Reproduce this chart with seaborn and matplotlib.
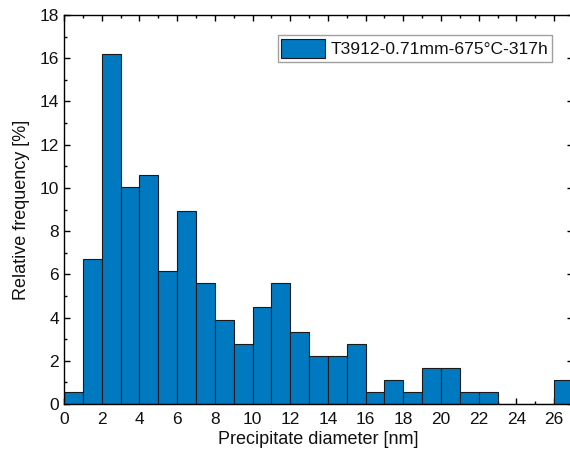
import numpy as np
import pandas as pd
import matplotlib
matplotlib.use("Agg")
import matplotlib.pyplot as plt
import seaborn as sns
from matplotlib.ticker import MultipleLocator

# Data: relative frequency [%] per 1 nm bin (bin left edges 0..26)
bin_left = list(range(27))
rel_freq = [0.56, 6.70, 16.20, 10.06, 10.61, 6.15, 8.94, 5.59, 3.91, 2.79,
            4.47, 5.59, 3.35, 2.23, 2.23, 2.79, 0.56, 1.12, 0.56, 1.68,
            1.68, 0.56, 0.56, 0.0, 0.0, 0.0, 1.12]
series_label = "T3912-0.71mm-675°C-317h"
x_ticks = list(range(0, 27, 2))
y_ticks = list(range(0, 19, 2))

df = pd.DataFrame({"center": np.array(bin_left) + 0.5, "freq": rel_freq})

sns.set_style("white")
plt.rcParams["font.family"] = ["Liberation Sans", "DejaVu Sans"]
plt.rcParams["font.size"] = 12
plt.rcParams["text.color"] = "#111111"
plt.rcParams["axes.labelcolor"] = "#111111"

fig = plt.figure(figsize=(5.70, 4.53), dpi=100)
ax = fig.add_axes([64 / 570, 1 - 404 / 453, (573 - 64) / 570, (404 - 15) / 453])

sns.histplot(data=df, x="center", weights="freq", binwidth=1, binrange=(0, 27),
             color="#0079C1", edgecolor="#1a1a1a", linewidth=0.8, alpha=1,
             label=series_label, ax=ax)

ax.set_xlim(0, 27)
ax.set_ylim(0, 18)
ax.set_xticks(x_ticks)
ax.set_yticks(y_ticks)
ax.xaxis.set_minor_locator(MultipleLocator(1))
ax.yaxis.set_minor_locator(MultipleLocator(1))
ax.tick_params(which="both", direction="in", top=True, right=True,
               bottom=True, left=True, colors="black", labelcolor="#111111",
               labelsize=12.5)
ax.tick_params(which="major", length=4.5, width=1)
ax.tick_params(which="minor", length=2.5, width=1)
ax.tick_params(axis="x", pad=6)
for s in ax.spines.values():
    s.set_visible(True)
    s.set_color("black")
    s.set_linewidth(1)

ax.set_xlabel("Precipitate diameter [nm]", fontsize=13, labelpad=3)
ax.set_ylabel("Relative frequency [%]", fontsize=13, labelpad=7)

leg = ax.legend(loc="upper right", bbox_to_anchor=(552 / 509 - 64 / 509, 1 - 20 / 389),
                fontsize=12.6, frameon=True, fancybox=False, borderpad=0.22,
                handlelength=2.5, handleheight=1.3, handletextpad=0.3,
                borderaxespad=0)
leg.get_frame().set_edgecolor("#888888")
leg.get_frame().set_linewidth(1)

fig.savefig("out.png", dpi=100)
